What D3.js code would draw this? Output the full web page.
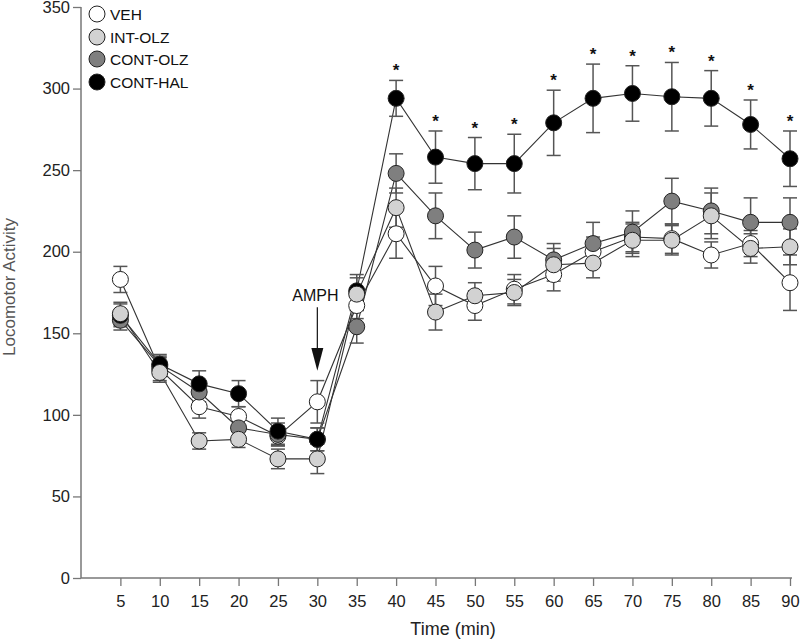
<!DOCTYPE html>
<html><head><meta charset="utf-8">
<script src="https://cdn.jsdelivr.net/npm/d3@7/dist/d3.min.js"></script>
<style>body{margin:0;background:#fff}svg{display:block;font-family:"Liberation Sans",Arial,sans-serif}</style>
</head><body><svg id="c" width="800" height="642"></svg>
<script>
const times = [5,10,15,20,25,30,35,40,45,50,55,60,65,70,75,80,85,90];
const xTicks = [5,10,15,20,25,30,35,40,45,50,55,60,65,70,75,80,85,90];
const yTicks = [0,50,100,150,200,250,300,350];
const seriesNames = ["VEH","INT-OLZ","CONT-OLZ","CONT-HAL"];
const vehValues = [183,128,105,99,87,108,167,211,179,167,177,186,200,209,208,198,205,181];
const vehErr    = [8,7,7,6,6,13,8,15,12,9,9,10,9,9,9,8,8,17];
const intOlzValues = [162,126,84,85,73,73,174,227,163,173,175,192,193,207,207,222,202,203];
const intOlzErr    = [7,6,5,5,6,9,10,12,11,8,8,10,9,10,9,14,9,11];
const contOlzValues = [158,130,114,92,88,85,154,248,222,201,209,195,205,212,231,225,218,218];
const contOlzErr    = [6,6,6,7,7,7,10,12,14,11,13,10,13,13,14,14,15,15];
const contHalValues = [161,131,119,113,90,85,176,294,258,254,254,279,294,297,295,294,278,257];
const contHalErr    = [7,6,8,8,8,7,10,11,16,16,18,20,21,17,21,17,15,17];
const starTimes = [40,45,50,55,60,65,70,75,80,85,90];
const fills = {"VEH":"#ffffff","INT-OLZ":"#d2d2d2","CONT-OLZ":"#7f7f7f","CONT-HAL":"#000000"};

const series = [
  {name:"VEH", v:vehValues, e:vehErr},
  {name:"CONT-OLZ", v:contOlzValues, e:contOlzErr},
  {name:"CONT-HAL", v:contHalValues, e:contHalErr},
  {name:"INT-OLZ", v:intOlzValues, e:intOlzErr}
];

const svg = d3.select("#c");
const x = d3.scaleLinear().domain([0,90]).range([81,790]);
const y = d3.scaleLinear().domain([0,350]).range([578,7]);

// axes
const yAxis = d3.axisLeft(y).tickValues(yTicks).tickSize(8).tickPadding(3);
const gy = svg.append("g").attr("transform","translate(81,0)").call(yAxis);
gy.select(".domain").attr("stroke","#777").attr("stroke-width",1.5).attr("d","M0,7V578");
gy.selectAll(".tick line").attr("stroke","#777").attr("stroke-width",1.3);
gy.selectAll(".tick text").attr("font-size",16.5).attr("fill","#222").attr("font-family","Liberation Sans, Arial, sans-serif");

const xAxis = d3.axisBottom(x).tickValues(xTicks).tickSize(8).tickPadding(9);
const gx = svg.append("g").attr("transform","translate(0,578)").call(xAxis);
gx.select(".domain").attr("stroke","#777").attr("stroke-width",1.5).attr("d","M81,0H792");
gx.selectAll(".tick line").attr("stroke","#777").attr("stroke-width",1.3);
gx.selectAll(".tick text").attr("font-size",16.5).attr("fill","#222").attr("font-family","Liberation Sans, Arial, sans-serif");

svg.append("text").attr("x",453).attr("y",635).attr("text-anchor","middle")
  .attr("font-size",18).attr("fill","#222").text("Time (min)");
svg.append("text").attr("transform","translate(15,287) rotate(-90)").attr("text-anchor","middle")
  .attr("font-size",17).attr("fill","#555").text("Locomotor Activity");

// lines
const line = d3.line().x((d,i)=>x(times[i])).y(d=>y(d));
series.forEach(s=>{
  svg.append("path").attr("d",line(s.v)).attr("fill","none").attr("stroke","#333").attr("stroke-width",1.1);
});
// error bars
series.forEach(s=>{
  const g = svg.append("g").attr("stroke","#555").attr("stroke-width",1.5).attr("fill","none");
  s.v.forEach((v,i)=>{
    const cx = x(times[i]), hi = y(v+s.e[i]), lo = y(v-s.e[i]);
    g.append("line").attr("x1",cx).attr("x2",cx).attr("y1",hi).attr("y2",lo);
    g.append("line").attr("x1",cx-7).attr("x2",cx+7).attr("y1",hi).attr("y2",hi);
    g.append("line").attr("x1",cx-7).attr("x2",cx+7).attr("y1",lo).attr("y2",lo);
  });
});
// points
series.forEach(s=>{
  svg.append("g").selectAll("circle").data(s.v).join("circle")
    .attr("cx",(d,i)=>x(times[i])).attr("cy",d=>y(d)).attr("r",8)
    .attr("fill",fills[s.name]).attr("stroke","#222").attr("stroke-width",1);
});
// stars
starTimes.forEach(t=>{
  const i = times.indexOf(t);
  svg.append("text").attr("x",x(t)).attr("y",y(contHalValues[i]+contHalErr[i])-4)
    .attr("text-anchor","middle").attr("font-size",17).attr("font-weight","bold").attr("fill","#111").text("*");
});
// AMPH arrow
const ax = x(30);
svg.append("text").attr("x",ax-2).attr("y",301).attr("text-anchor","middle").attr("font-size",16).attr("fill","#111").text("AMPH");
svg.append("line").attr("x1",ax).attr("x2",ax).attr("y1",y(166)).attr("y2",y(140)).attr("stroke","#111").attr("stroke-width",1.2);
svg.append("path").attr("d",`M${ax-6},${y(141)}L${ax+6},${y(141)}L${ax},${y(127)}Z`).attr("fill","#111");

// legend
const legY = [14,37,59,82];
seriesNames.forEach((n,i)=>{
  svg.append("circle").attr("cx",97).attr("cy",legY[i]).attr("r",8).attr("fill",fills[n]).attr("stroke","#222").attr("stroke-width",1);
  svg.append("text").attr("x",110).attr("y",legY[i]+5.5).attr("font-size",15.5).attr("fill","#111").text(n);
});
</script></body></html>
